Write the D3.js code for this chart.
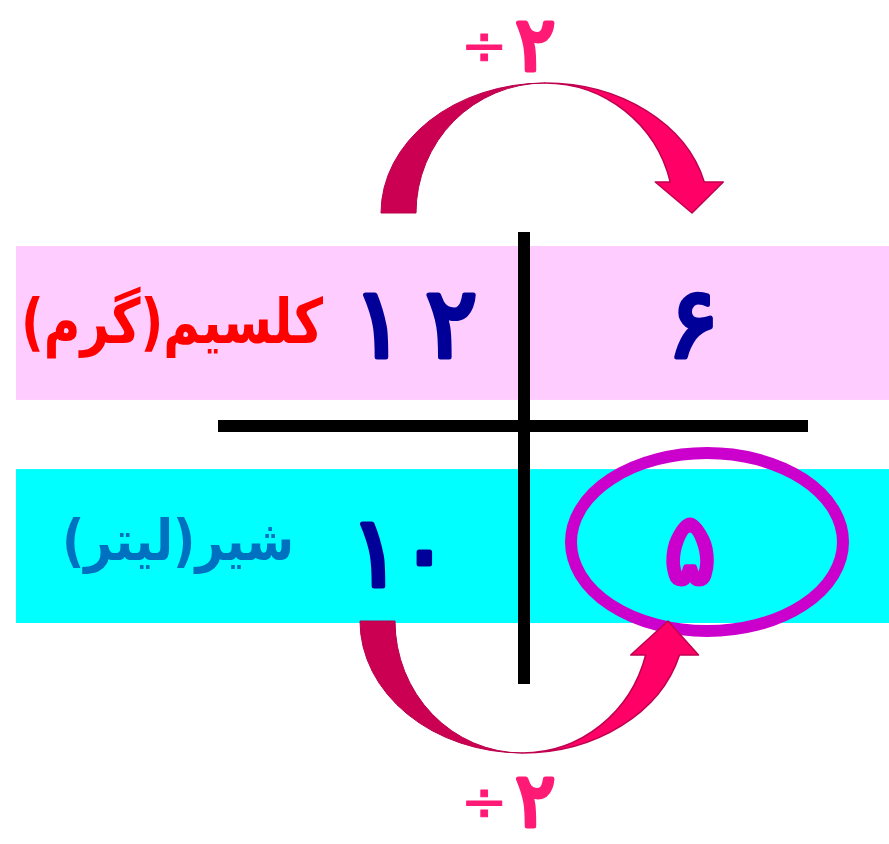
<!DOCTYPE html>
<html>
<head>
<meta charset="utf-8">
<script src="https://cdn.jsdelivr.net/npm/d3@7"></script>
<style>
  html, body { margin: 0; padding: 0; background: #fff; }
  svg { display: block; }
  text { font-family: "DejaVu Sans", sans-serif; font-weight: bold; }
  text.num, text.op { font-weight: normal; stroke-linejoin: round; stroke-linecap: round; }
</style>
</head>
<body>
<div id="chartArea"></div>
<script>
// rows of the proportion table
const rowLabels = ['کلسیم(گرم)', 'شیر(لیتر)'];
const leftValues = ['۱۲', '۱۰'];
const rightValues = ['۶', '۵'];
const operations = ['۲', '۲'];
const columns = ['label', 'left', 'right'];

const width = 889, height = 844;
const bandColors = ['#ffccff', '#00ffff'];
const labelColors = ['#ff0000', '#0070c0'];
const labelWidths = [302, 232];

const svg = d3.select('#chartArea').append('svg')
  .attr('width', width)
  .attr('height', height);

const y = d3.scaleBand()
  .domain(rowLabels)
  .range([246, 623])
  .paddingInner(0.31);

const x = d3.scaleOrdinal()
  .domain(columns)
  .range([172, 404, 690]);

// background bands
svg.selectAll('rect.band')
  .data(rowLabels)
  .enter().append('rect')
  .attr('class', 'band')
  .attr('x', 16)
  .attr('y', d => y(d))
  .attr('width', width - 16)
  .attr('height', y.bandwidth())
  .attr('fill', (d, i) => bandColors[i]);

// the cross
const splitX = (x('left') + x('right')) / 2 - 23;
const splitY = y(rowLabels[0]) + y.bandwidth() + 26;
svg.append('line')
  .attr('x1', splitX).attr('x2', splitX)
  .attr('y1', y(rowLabels[0]) - 14).attr('y2', y(rowLabels[1]) + y.bandwidth() + 61)
  .attr('stroke', '#000').attr('stroke-width', 12);
svg.append('line')
  .attr('x1', 218).attr('x2', 808)
  .attr('y1', splitY).attr('y2', splitY)
  .attr('stroke', '#000').attr('stroke-width', 12);

const mid = d => y(d) + y.bandwidth() / 2;

// row labels, squeezed horizontally to the width they take in the original
svg.selectAll('text.label')
  .data(rowLabels)
  .enter().append('text')
  .attr('class', 'label')
  .attr('x', 0)
  .attr('y', 0)
  .attr('text-anchor', 'middle')
  .attr('direction', 'rtl')
  .attr('font-size', (d, i) => i === 0 ? 62 : 56)
  .attr('fill', (d, i) => labelColors[i])
  .text(d => d)
  .attr('transform', function (d, i) {
    const s = labelWidths[i] / this.getComputedTextLength();
    return `translate(${x('label') + i * 6},${mid(d) + (i === 0 ? 20 : 14)}) scale(${s},1)`;
  });

// values (left column digits are spread apart, one tspan each)
const leftText = svg.selectAll('text.left')
  .data(leftValues)
  .enter().append('text')
  .attr('class', 'num left')
  .attr('x', (d, i) => i === 0 ? x('left') + 11 : x('left') - 4)
  .attr('y', (d, i) => mid(rowLabels[i]) + 34 + i * 6)
  .attr('text-anchor', 'middle')
  .attr('font-size', 98)
  .attr('fill', '#000099')
  .attr('stroke', '#000099')
  .attr('stroke-width', 5);

leftText.selectAll('tspan')
  .data((d, i) => d.split('').map((c, j) => ({ c, dx: j === 0 ? 0 : (i === 0 ? 20 : -4) })))
  .enter().append('tspan')
  .attr('dx', t => t.dx)
  .text(t => t.c);

svg.selectAll('text.right')
  .data(rightValues)
  .enter().append('text')
  .attr('class', 'num right')
  .attr('x', (d, i) => x('right') + 3 - i * 3)
  .attr('y', (d, i) => mid(rowLabels[i]) + 34 + i * 3)
  .attr('text-anchor', 'middle')
  .attr('font-size', 98)
  .attr('fill', (d, i) => i === 0 ? '#000099' : '#cc00cc')
  .attr('stroke', (d, i) => i === 0 ? '#000099' : '#cc00cc')
  .attr('stroke-width', 5)
  .text(d => d);

// highlight of the answer
svg.append('ellipse')
  .attr('cx', x('right') + 17)
  .attr('cy', mid(rowLabels[1]) - 4)
  .attr('rx', 136)
  .attr('ry', 89)
  .attr('fill', 'none')
  .attr('stroke', '#cc00cc')
  .attr('stroke-width', 12);

// curved arrows: dir -1 goes over the top, +1 goes under
function arrow(xa, xb, by, ry, dir, h) {
  const cx = (xa + xb) / 2, s = (xb - xa) / 2;
  const ro = s + 17, ri = s - 18;
  const sw = dir < 0 ? 1 : 0;
  const apexY = by + dir * ry;
  const hy = by + dir * h;
  const k = Math.sqrt(1 - (h / ry) * (h / ry));
  const backD = `M${cx - ro},${by} A${ro},${ry} 0 0 ${sw} ${cx},${apexY} A${ri},${ry} 0 0 ${1 - sw} ${cx - ri},${by} Z`;
  const frontD = `M${cx},${apexY} A${ro},${ry} 0 0 ${sw} ${cx + ro * k},${hy}` +
    ` L${cx + ro * k + 19},${hy} L${xb},${by} L${cx + ri * k - 15},${hy} L${cx + ri * k},${hy}` +
    ` A${ri},${ry} 0 0 ${1 - sw} ${cx},${apexY} Z`;
  return [backD, frontD];
}

const arrowSpecs = [
  { xa: x('left') - 6, xb: x('right') + 2, by: y(rowLabels[0]) - 33, ry: 130, dir: -1, h: 31 },
  { xa: x('left') - 27, xb: x('right') - 22, by: y(rowLabels[1]) + y.bandwidth() - 2, ry: 132, dir: 1, h: 34 }
];

const arrows = svg.selectAll('g.arrow')
  .data(arrowSpecs)
  .enter().append('g')
  .attr('class', 'arrow');

arrows.append('path')
  .attr('d', d => arrow(d.xa, d.xb, d.by, d.ry, d.dir, d.h)[0])
  .attr('fill', '#cc0052')
  .attr('stroke', '#b8004a')
  .attr('stroke-width', 1);

arrows.append('path')
  .attr('d', d => arrow(d.xa, d.xb, d.by, d.ry, d.dir, d.h)[1])
  .attr('fill', '#ff0066')
  .attr('stroke', '#c0004e')
  .attr('stroke-width', 1.5)
  .attr('stroke-linejoin', 'round');

// operation labels: divide sign then the divisor
const ops = svg.selectAll('text.op')
  .data(operations)
  .enter().append('text')
  .attr('class', 'op')
  .attr('x', 508)
  .attr('y', (d, i) => i === 0 ? 70 : 826)
  .attr('text-anchor', 'middle')
  .attr('fill', '#ff1a75')
  .attr('stroke', '#ff1a75');

ops.append('tspan')
  .attr('font-size', 56)
  .attr('stroke-width', 1)
  .attr('dy', -6)
  .text('÷');

ops.append('tspan')
  .attr('font-size', 74)
  .attr('stroke-width', 5)
  .attr('dx', 8)
  .attr('dy', 6)
  .text(d => d);
</script>
</body>
</html>
